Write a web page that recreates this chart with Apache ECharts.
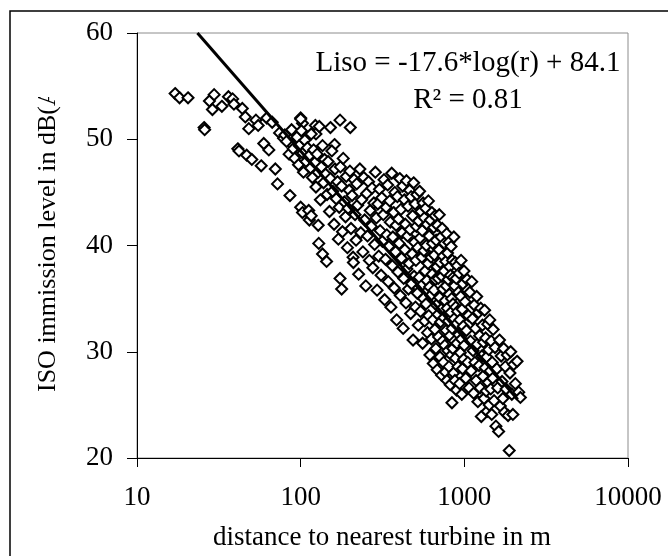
<!DOCTYPE html>
<html>
<head>
<meta charset="utf-8">
<script src="https://cdn.jsdelivr.net/npm/echarts@6/dist/echarts.min.js"></script>
<style>
  html, body { margin: 0; padding: 0; background: #fff; }
  #main { width: 668px; height: 556px; }
</style>
</head>
<body>
<div id="main"></div>
<script>
// axis ticks
const xTicks = [10, 100, 1000, 10000];
const yTicks = [20, 30, 40, 50, 60];

// measured points: [distance m, ISO level dB(A)]
const points = [
  [17.1,54.3],[18.2,53.9],[20.5,53.9],[25.7,51.1],[25.9,50.9],[27.7,53.6],[28.9,52.8],[29.6,54.2],
  [33.0,53.1],[36.2,54.0],[38.4,53.8],[39.1,53.3],[41.3,49.1],[42.0,48.9],[44.0,52.9],[45.9,52.1],
  [46.8,48.5],[48.2,51.0],[50.3,48.1],[53.3,51.8],[55.0,51.3],[57.4,47.5],[59.5,49.6],[62.1,52.0],
  [63.9,49.0],[67.0,51.6],[70.0,47.2],[72.2,45.8],[74.3,50.6],[78.6,50.1],[86.0,44.7],[88.6,49.5],
  [91.4,48.5],[100,52.0],[102.6,51.5],[100,43.6],[102.6,43.1],[112,43.3],[113,42.4],[116,42.8],
  [123,51.3],[124,50.5],[128,41.9],[129,40.2],[136,39.2],[144,38.5],[152,51.1],[161,49.5],
  [174,51.8],[174,36.9],[178,35.9],[201,51.1],[209,38.9],
  [80,50.4],[82,49.8],[85,48.6],[88,50.9],[90,49.1],[92,48.2],[95,50.2],[97,47.6],[98,49.4],[100,51.9],
  [101,50.8],[103,48.7],[104,46.9],[106,49.9],[108,47.9],[110,49.2],[112,48.4],[115,47.3],[116,50.5],
  [118,46.4],[120,49.0],[122,47.8],[124,45.5],[126,48.6],[128,46.9],[130,51.2],[132,44.3],[134,47.4],
  [136,49.4],[138,45.9],[140,48.1],[142,46.7],[145,44.8],[147,47.9],[150,43.2],[152,46.3],[155,48.9],
  [157,45.1],[160,42.0],[162,47.2],[165,44.4],[168,46.0],[170,40.6],[172,43.6],[175,47.4],[178,45.6],
  [180,41.3],[182,48.2],[185,44.1],[188,42.7],[190,46.5],[193,39.8],[195,43.5],[198,45.2],[200,47.0],
  [203,41.6],[206,44.7],[210,38.4],[212,46.2],[215,42.9],[218,40.5],[220,45.8],[223,43.8],[226,37.3],
  [230,47.2],[233,41.2],[236,44.3],[240,39.4],[243,46.4],[246,42.4],[250,36.2],[253,44.9],[256,40.9],
  [260,46.0],[263,38.6],[266,43.3],[270,41.8],[273,45.4],[276,37.9],[280,44.0],[283,40.1],[286,46.9],
  [290,42.6],[293,35.8],[296,43.9],[300,39.0],[303,45.3],[306,41.4],[310,37.2],[313,44.5],[316,40.4],
  [320,42.9],[323,46.2],[326,34.9],[330,38.7],[333,43.6],[336,41.0],[340,45.7],[343,36.6],[346,39.9],
  [350,44.2],[353,42.2],[356,34.2],[360,46.8],[363,38.1],[366,40.8],[370,43.1],[373,36.0],[376,45.0],
  [380,39.4],[383,41.9],[386,33.0],[390,44.6],[393,37.5],[396,42.5],[400,40.2],[403,46.3],[406,35.3],
  [410,43.4],[413,38.8],[416,41.2],[420,45.6],[423,32.2],[426,36.9],[430,44.3],[433,39.6],[436,42.0],
  [440,34.6],[443,46.1],[446,37.8],[450,40.9],[453,43.7],[456,35.9],[460,38.3],[463,45.2],[466,41.5],
  [470,33.6],[473,44.6],[476,36.4],[480,39.2],[483,42.8],[486,31.1],[490,45.9],[493,37.1],[496,40.3],
  [500,43.9],[503,34.2],[506,38.6],[510,41.8],[513,44.8],[516,35.5],[520,39.8],[523,32.5],[526,42.3],
  [530,37.0],[533,45.1],[536,40.7],[540,33.8],[543,43.2],[546,36.2],[550,38.9],[553,41.4],[556,30.8],
  [560,44.0],[563,35.0],[566,39.5],[570,42.6],[573,32.9],[576,37.6],[580,43.5],[583,34.5],[586,40.0],
  [590,36.7],[593,42.0],[596,31.8],[600,38.3],[603,44.2],[606,33.4],[610,40.9],[613,36.1],[616,29.7],
  [620,42.4],[623,35.3],[626,38.9],[630,31.2],[633,43.1],[636,37.3],[640,40.2],[643,33.0],[646,28.9],
  [650,41.7],[653,35.8],[656,39.1],[660,32.1],[663,42.8],[666,36.8],[670,30.3],[673,40.5],[676,34.4],
  [680,38.0],[683,28.3],[686,41.9],[690,33.5],[693,36.9],[696,31.4],[700,39.6],[703,42.9],[706,35.1],
  [710,29.5],[713,38.4],[716,32.8],[720,40.8],[723,34.0],[726,27.8],[730,37.1],[733,41.6],[736,31.0],
  [740,35.9],[743,39.0],[746,29.0],[750,33.2],[753,37.6],[756,40.2],[760,30.6],[763,34.8],[766,28.1],
  [770,38.5],[773,32.0],[776,36.2],[780,41.1],[783,27.3],[786,34.1],[790,39.3],[793,30.1],[796,36.8],
  [800,32.9],[803,40.3],[806,28.6],[810,35.4],[813,38.0],[816,31.5],[820,26.9],[823,37.2],[826,33.7],
  [830,39.9],[833,29.7],[836,35.0],[840,25.2],[843,32.2],[846,38.6],[850,30.3],[853,34.5],[856,37.0],
  [860,28.0],[863,40.8],[866,33.1],[870,31.0],[873,36.2],[876,27.3],[880,38.4],[883,29.4],[886,34.2],
  [890,32.6],[893,36.9],[896,26.4],[900,30.8],[905,38.1],[910,33.8],[915,28.6],[920,35.6],[925,31.6],
  [930,37.4],[935,27.0],[940,33.0],[945,29.9],[950,35.2],[955,38.6],[960,31.2],[965,26.0],[970,34.0],
  [975,28.4],[980,36.4],[985,32.4],[990,29.3],[995,37.6],[1000,30.6],[1010,34.7],[1020,27.5],[1030,32.0],
  [1040,36.8],[1050,29.0],[1060,33.4],[1070,26.6],[1080,35.6],[1090,31.0],[1100,28.2],[1110,36.6],
  [1120,33.1],[1130,30.1],[1140,26.1],[1150,34.4],[1160,29.0],[1170,32.2],[1180,27.3],[1190,35.2],
  [1200,30.7],[1210,25.3],[1220,33.7],[1230,28.7],[1240,31.5],[1250,26.6],[1260,34.1],[1270,23.9],
  [1280,29.6],[1290,32.5],[1300,27.7],[1310,30.9],[1320,25.6],[1330,33.9],[1340,28.5],[1350,31.3],
  [1360,26.3],[1370,29.5],[1380,24.4],[1390,32.6],[1400,27.1],[1410,30.2],[1420,25.0],[1430,33.0],
  [1440,28.2],[1450,26.5],[1460,31.0],[1470,24.1],[1480,29.0],[1490,27.5],[1500,32.1],[1520,25.4],
  [1540,30.4],[1560,23.0],[1580,28.4],[1600,26.6],[1620,22.5],[1640,31.1],[1660,24.9],[1680,29.6],
  [1700,27.2],[1720,25.6],[1740,30.3],[1760,24.3],[1780,28.6],[1800,26.5],[1830,29.7],[1850,24.0],
  [1880,20.7],[1900,28.0],[1920,30.0],[1950,26.0],[1980,24.1],[2000,28.8],[2050,27.0],[2100,29.1],
  [2150,26.2],[2200,25.7]
];

// fitted trend line end points
const trendLine = [[23.4, 60.0], [2120, 25.5]];

const eqText = 'Liso = -17.6*log(r) + 84.1';
const r2Text = 'R\u00b2 = 0.81';
const xName = 'distance to nearest turbine in m';
const yName = 'ISO immission level in dB(A)';

const font = 'Liberation Serif';
const chart = echarts.init(document.getElementById('main'));

const option = {
  animation: false,
  backgroundColor: '#fff',
  grid: {
    left: 137, top: 33, right: 40, bottom: 98,
    show: true, borderColor: '#8c8c8c', borderWidth: 1, backgroundColor: 'transparent'
  },
  xAxis: {
    type: 'log', logBase: 10, min: xTicks[0], max: xTicks[xTicks.length - 1],
    axisLine: { lineStyle: { color: '#000', width: 1 } },
    axisTick: { inside: false, length: 9, lineStyle: { color: '#000' } },
    axisLabel: {
      color: '#000', fontFamily: font, fontSize: 27, margin: 26,
      formatter: v => String(Math.round(v))
    },
    splitLine: { show: false },
    minorTick: { show: false }
  },
  yAxis: {
    type: 'value', min: yTicks[0], max: yTicks[yTicks.length - 1], interval: 10,
    axisLine: { show: true, lineStyle: { color: '#000', width: 1 } },
    axisTick: { show: true, inside: false, length: 10, lineStyle: { color: '#000' } },
    axisLabel: { color: '#000', fontFamily: font, fontSize: 27, margin: 24 },
    splitLine: { show: false }
  },
  series: [
    {
      type: 'scatter',
      data: points,
      symbol: 'diamond',
      symbolSize: 11,
      itemStyle: { color: '#fff', borderColor: '#000', borderWidth: 2, opacity: 1 },
      z: 2
    },
    {
      type: 'line',
      data: trendLine,
      symbol: 'none',
      lineStyle: { color: '#000', width: 3 },
      z: 3
    }
  ],
  graphic: [
    {
      type: 'rect', shape: { x: 10, y: 11, width: 700, height: 600 },
      style: { fill: 'none', stroke: '#000', lineWidth: 1.5 }, silent: true
    },
    {
      type: 'text', x: 48, y: 392, rotation: Math.PI / 2,
      style: { text: yName, fontFamily: font, fontSize: 26, fill: '#000', textAlign: 'left', textVerticalAlign: 'middle' },
      z: 10
    },
    {
      type: 'rect', shape: { x: 25, y: 14, width: 45, height: 83 },
      style: { fill: '#fff' }, z: 11, silent: true
    },
    {
      type: 'text', x: 468, y: 63,
      style: { text: eqText, fontFamily: font, fontSize: 29, fill: '#000', textAlign: 'center', textVerticalAlign: 'middle' },
      z: 10
    },
    {
      type: 'text', x: 468, y: 100,
      style: { text: r2Text, fontFamily: font, fontSize: 29, fill: '#000', textAlign: 'center', textVerticalAlign: 'middle' },
      z: 10
    },
    {
      type: 'text', x: 382, y: 538,
      style: { text: xName, fontFamily: font, fontSize: 27, fill: '#000', textAlign: 'center', textVerticalAlign: 'middle' },
      z: 10
    }
  ]
};

chart.setOption(option);
</script>
</body>
</html>
